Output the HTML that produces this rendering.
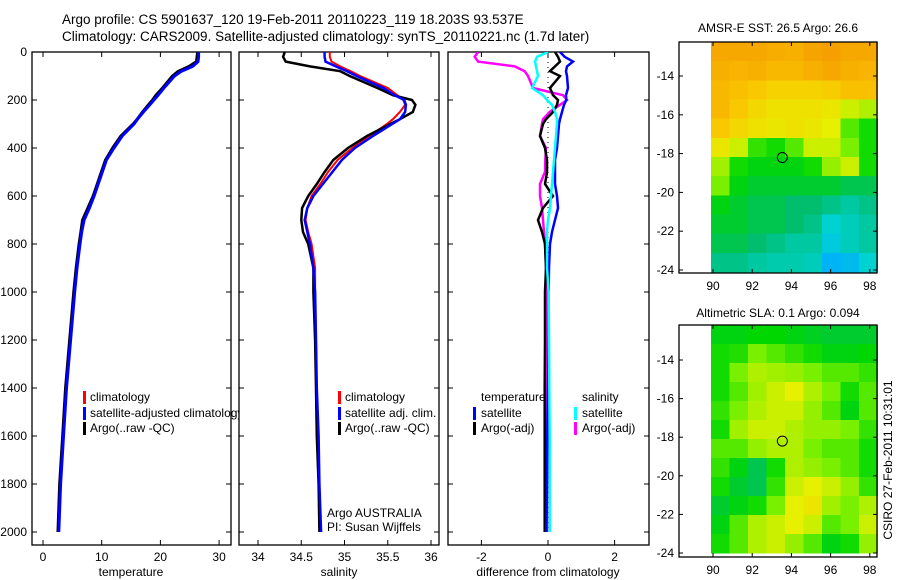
<!DOCTYPE html>
<html><head><meta charset="utf-8"><style>
html,body{margin:0;padding:0;background:#fff;}
svg{display:block;font-family:"Liberation Sans",sans-serif;}
</style></head><body>
<svg id="fig" width="900" height="580" viewBox="0 0 900 580" xmlns="http://www.w3.org/2000/svg">
<text x="62" y="24" font-size="13.5">Argo profile: CS 5901637_120 19-Feb-2011 20110223_119 18.203S 93.537E</text>
<text x="62" y="41" font-size="13.5">Climatology: CARS2009. Satellite-adjusted climatology: synTS_20110221.nc (1.7d later)</text>
<g id="root"></g>
</svg>
<script>
// ---- data ----
const depths = [0,20,40,60,80,100,150,180,200,220,250,280,300,350,400,450,500,550,600,650,700,750,800,900,1000,1200,1400,1600,1800,2000];
const tempClim = [26.4,26.4,26.3,25.3,23.4,22.2,20.5,19.5,18.8,18.1,17.0,16.0,15.4,13.4,12.0,10.7,10.0,9.3,8.6,7.8,6.9,6.5,6.2,5.7,5.3,4.6,3.9,3.4,2.9,2.6];
const tempSat  = [26.5,26.5,26.4,25.5,23.6,22.4,20.6,19.6,18.9,18.2,17.1,16.1,15.5,13.5,12.1,10.8,10.1,9.4,8.7,7.9,7.0,6.6,6.3,5.8,5.4,4.7,4.0,3.5,3.0,2.7];
const tempArgo = [26.3,26.2,26.1,24.8,23.0,22.0,20.3,19.2,18.6,17.9,16.9,16.0,15.3,13.2,11.8,10.6,9.9,9.2,8.5,7.6,6.7,6.4,6.1,5.6,5.2,4.5,3.8,3.3,2.8,2.5];
const salClim = [34.83,34.83,34.85,34.95,35.07,35.18,35.50,35.61,35.68,35.70,35.64,35.56,35.49,35.29,35.09,34.92,34.81,34.72,34.62,34.57,34.55,34.58,34.62,34.66,34.66,34.67,34.68,34.69,34.70,34.72];
const salSat  = [34.77,34.77,34.78,34.90,35.03,35.14,35.45,35.58,35.69,35.71,35.70,35.64,35.55,35.33,35.12,34.97,34.86,34.75,34.64,34.57,34.54,34.57,34.60,34.64,34.66,34.67,34.68,34.70,34.71,34.73];
const salArgo = [34.31,34.29,34.32,34.60,34.95,35.06,35.38,35.56,35.78,35.82,35.79,35.64,35.53,35.26,35.04,34.87,34.77,34.68,34.58,34.51,34.50,34.52,34.58,34.64,34.64,34.66,34.67,34.68,34.70,34.71];
const dTempSat  = [0.36,0.50,0.75,0.57,0.54,0.57,0.60,0.54,0.55,0.48,0.42,0.36,0.33,0.30,0.27,0.21,0.21,0.21,0.27,0.30,0.21,0.12,0.06,0.03,0.02,0.02,0.0,-0.02,-0.03,-0.05];
const dTempArgo = [0.21,0.30,0.36,0.21,0.06,0.36,0.06,0.15,0.30,0.27,0.15,-0.06,-0.15,-0.24,-0.09,-0.03,-0.03,-0.09,0.15,-0.15,-0.30,-0.18,-0.09,-0.06,-0.09,-0.09,-0.10,-0.10,-0.10,-0.10];
const dSalSat   = [0.0,-0.33,-0.39,-0.36,-0.33,-0.30,-0.48,-0.15,-0.03,0.12,0.21,0.27,0.27,0.24,0.21,0.18,0.15,0.12,0.09,0.06,0.0,-0.03,-0.03,-0.03,0.02,0.03,0.04,0.05,0.05,0.05];
const dSalArgo  = [-2.1,-2.2,-2.1,-1.0,-0.7,-0.6,-0.45,0.45,0.57,0.36,0.05,-0.15,-0.18,-0.24,-0.06,-0.08,-0.09,-0.24,-0.24,-0.18,-0.15,-0.12,-0.09,-0.06,-0.05,-0.04,-0.04,-0.03,-0.03,-0.03];
const depthTicks = [0,200,400,600,800,1000,1200,1400,1600,1800,2000];
const tempTicks = [0,10,20,30];
const salTicks = [34,34.5,35,35.5,36];
const salTickLabels = ["34","34.5","35","35.5","36"];
const diffTicks = [-2,0,2];
const lonTicks = [90,92,94,96,98];
const latTicks = [-14,-16,-18,-20,-22,-24];
const argoLon = 93.537, argoLat = -18.203;
const sstGrid = [
[.76,.76,.76,.75,.74,.77,.78,.76,.76],
[.74,.73,.74,.72,.72,.74,.76,.74,.73],
[.72,.70,.68,.66,.66,.66,.67,.70,.70],
[.72,.68,.65,.63,.63,.63,.62,.58,.56],
[.68,.65,.63,.62,.63,.62,.60,.50,.46],
[.62,.58,.48,.46,.50,.58,.58,.52,.46],
[.55,.46,.44,.44,.44,.46,.54,.58,.46],
[.52,.44,.42,.42,.42,.42,.42,.40,.40],
[.44,.42,.40,.40,.38,.38,.36,.34,.36],
[.42,.42,.40,.40,.38,.36,.30,.32,.34],
[.40,.40,.38,.36,.34,.34,.28,.32,.34],
[.36,.36,.34,.33,.33,.32,.22,.24,.30]];
const slaGrid = [
[.44,.44,.45,.45,.44,.43,.42,.42,.42],
[.46,.47,.52,.50,.48,.46,.44,.44,.45],
[.46,.52,.56,.55,.54,.52,.50,.50,.48],
[.46,.50,.55,.58,.60,.56,.52,.46,.50],
[.48,.52,.56,.58,.58,.54,.50,.44,.50],
[.46,.55,.58,.58,.56,.54,.54,.52,.48],
[.50,.50,.54,.56,.56,.52,.50,.50,.46],
[.48,.44,.40,.46,.56,.54,.52,.50,.46],
[.46,.42,.40,.48,.58,.60,.58,.54,.48],
[.42,.44,.46,.52,.60,.62,.55,.52,.56],
[.44,.50,.56,.58,.60,.58,.50,.52,.58],
[.46,.50,.56,.58,.54,.50,.44,.46,.54]];

// ---- axes ----
const NS="http://www.w3.org/2000/svg";
const root=document.getElementById('root');
function mk(tag,at,parent){const e=document.createElementNS(NS,tag);for(const k in at)e.setAttribute(k,at[k]);(parent||root).appendChild(e);return e;}
const PT=52,PB=545;
const yP=d=>PT+d*0.24;
const xT=v=>43+v*5.87;
const xS=v=>258+(v-34)*86.5;
const xD=v=>548+v*33.3;
const panels=[{x0:32,x1:231,name:'temperature-panel'},{x0:239,x1:439,name:'salinity-panel'},{x0:448,x1:649,name:'difference-panel'}];

function panelBox(p,i){
  const r=mk('rect',{x:p.x0,y:PT,width:p.x1-p.x0,height:PB-PT,fill:'#fff',stroke:'#000','stroke-width':1.3});
  
  
  const cp=mk('clipPath',{id:'clip'+i});
  mk('rect',{x:p.x0,y:PT,width:p.x1-p.x0,height:PB-PT},cp);
  depthTicks.forEach(d=>{
    mk('line',{x1:p.x0,x2:p.x0+5,y1:yP(d),y2:yP(d),stroke:'#000'});
    mk('line',{x1:p.x1-5,x2:p.x1,y1:yP(d),y2:yP(d),stroke:'#000'});
  });
}
function xTicks(p,ticks,labels,fx){
  ticks.forEach((t,k)=>{
    const x=fx(t);
    mk('line',{x1:x,x2:x,y1:PB,y2:PB-5,stroke:'#000'});
    mk('line',{x1:x,x2:x,y1:PT,y2:PT+5,stroke:'#000'});
    const tx=mk('text',{x:x,y:PB+16,'font-size':12,'text-anchor':'middle'});
    tx.textContent=labels[k];
    
    
  });
}
function line(vals,fx,color,w,i,name){
  const pts=vals.map((v,k)=>fx(v).toFixed(1)+','+yP(depths[k]).toFixed(1)).join(' ');
  const pl=mk('polyline',{points:pts,fill:'none',stroke:color,'stroke-width':w,'clip-path':'url(#clip'+i+')','stroke-linejoin':'miter'});
  
  
}
function label(x,y,txt,name,anchor,size){
  const t=mk('text',{x:x,y:y,'font-size':size||12,'text-anchor':anchor||'start'});
  t.textContent=txt;
  
  
  return t;
}
function legBar(x,y,color){
  const r=mk('rect',{x:x,y:y-10,width:3,height:13,fill:color});
  
  
}

// depth labels
depthTicks.forEach(d=>{label(27,yP(d)+4,String(d),'y-tick-label','end');});

// panel 1
panelBox(panels[0],0);
xTicks(panels[0],tempTicks,tempTicks.map(String),xT);
line(tempClim,xT,'#f00',2,0,'temperature-climatology-line');
line(tempArgo,xT,'#000',2.5,0,'temperature-argo-line');
line(tempSat,xT,'#00f',3,0,'temperature-satellite-line');
label(131,576,'temperature','x-axis-title-temperature','middle');
legBar(83,401,'#f00');label(90,401,'climatology','legend-entry-climatology');
legBar(83,417,'#00f');label(90,417,'satellite-adjusted climatology','legend-entry-satellite');
legBar(83,432,'#000');label(90,432,'Argo(..raw -QC)','legend-entry-argo');

// panel 2
panelBox(panels[1],1);
xTicks(panels[1],salTicks,salTickLabels,xS);
line(salClim,xS,'#f00',2,1,'salinity-climatology-line');
line(salArgo,xS,'#000',2.5,1,'salinity-argo-line');
line(salSat,xS,'#00f',2.5,1,'salinity-satellite-line');
label(339,576,'salinity','x-axis-title-salinity','middle');
legBar(338,401,'#f00');label(345,401,'climatology','legend-entry-climatology');
legBar(338,417,'#00f');label(345,417,'satellite adj. clim.','legend-entry-satellite');
legBar(338,432,'#000');label(345,432,'Argo(..raw -QC)','legend-entry-argo');
label(327,517,'Argo AUSTRALIA','program-label');
label(327,531,'PI: Susan Wijffels','pi-label');

// panel 3
panelBox(panels[2],2);
xTicks(panels[2],diffTicks,diffTicks.map(String),xD);
mk('line',{x1:xD(0),x2:xD(0),y1:PT,y2:yP(2000),stroke:'#000','stroke-width':1,'stroke-dasharray':'1 4'});
line(dSalArgo,xD,'#f0f',2.5,2,'salinity-argo-diff-line');
line(dTempArgo,xD,'#000',2.5,2,'temperature-argo-diff-line');
line(dTempSat,xD,'#00f',2.5,2,'temperature-satellite-diff-line');
line(dSalSat,xD,'#0ff',2.5,2,'salinity-satellite-diff-line');
label(548,576,'difference from climatology','x-axis-title-difference','middle');
label(481,401,'temperature','legend-header-temperature');
label(582,401,'salinity','legend-header-salinity');
legBar(473,417,'#00f');label(481,417,'satellite','legend-entry-temp-satellite');
legBar(473,432,'#000');label(481,432,'Argo(-adj)','legend-entry-temp-argo');
legBar(574,417,'#0ff');label(582,417,'satellite','legend-entry-sal-satellite');
legBar(574,432,'#f0f');label(582,432,'Argo(-adj)','legend-entry-sal-argo');

// ---- maps ----
const stops=[[0,[0,80,220]],[0.2,[0,170,255]],[0.3,[0,210,210]],[0.38,[0,190,110]],[0.45,[0,215,0]],[0.52,[120,240,0]],[0.6,[230,240,0]],[0.68,[250,200,0]],[0.78,[245,160,0]],[1,[240,100,0]]];
function cmap(v){
  for(let i=1;i<stops.length;i++){if(v<=stops[i][0]){const a=stops[i-1],b=stops[i];const t=(v-a[0])/(b[0]-a[0]);
    return 'rgb('+a[1].map((c,k)=>Math.round(c+(b[1][k]-c)*t)).join(',')+')';}}
  return 'rgb(240,100,0)';
}
function drawMap(m){
  const xL=lon=>713+(lon-90)*19.6;
  const yL=lat=>m.y14+(-14-lat)*m.ppd;
  const g=mk('g',{});
  
  
  mk('rect',{x:679,y:m.top,width:198,height:m.bot-m.top,fill:'#fff'},g);
  const rows=m.grid.length, cols=m.grid[0].length;
  const lon0=89.9, lon1=98.4, lat0=m.latTop, lat1=m.latBot;
  const dlon=(lon1-lon0)/cols, dlat=(lat0-lat1)/rows;
  m.grid.forEach((row,r)=>row.forEach((v,c)=>{
    const x=xL(lon0+c*dlon), y=yL(lat0-r*dlat);
    const cell=mk('rect',{x:x.toFixed(1),y:y.toFixed(1),width:(19.6*dlon+0.6).toFixed(1),height:(m.ppd*dlat+0.6).toFixed(1),fill:cmap(v),'shape-rendering':'crispEdges'},g);
    
    
  }));
  mk('rect',{x:679,y:m.top,width:198,height:m.bot-m.top,fill:'none',stroke:'#000','stroke-width':1.3},g);
  lonTicks.forEach(l=>{const x=xL(l);
    mk('line',{x1:x,x2:x,y1:m.top,y2:m.top+4,stroke:'#000'},g);
    mk('line',{x1:x,x2:x,y1:m.bot,y2:m.bot-4,stroke:'#000'},g);
    label(x,m.bot+17,String(l),'map-lon-label','middle');});
  latTicks.forEach(l=>{const y=yL(l);
    mk('line',{x1:679,x2:683,y1:y,y2:y,stroke:'#000'},g);
    mk('line',{x1:873,x2:877,y1:y,y2:y,stroke:'#000'},g);
    label(674,y+4,String(l),'map-lat-label','end');});
  const c=mk('circle',{cx:xL(argoLon),cy:yL(argoLat),r:5,fill:'none',stroke:'#000','stroke-width':1},g);
  
  
  label(778,m.titleY,m.title,m.name+'-title','middle');
}
drawMap({name:'sst-map',grid:sstGrid,top:42,bot:273,y14:76,ppd:19.4,latTop:-12.25,latBot:-24.1,titleY:32,title:'AMSR-E SST: 26.5  Argo: 26.6'});
drawMap({name:'sla-map',grid:slaGrid,top:325,bot:557,y14:360,ppd:19.3,latTop:-12.2,latBot:-24.0,titleY:317,title:'Altimetric SLA: 0.1  Argo: 0.094'});
const cs=label(0,0,'CSIRO 27-Feb-2011 10:31:01','csiro-timestamp','middle');
cs.setAttribute('transform','translate(892,460) rotate(-90)');
</script>
</body></html>
